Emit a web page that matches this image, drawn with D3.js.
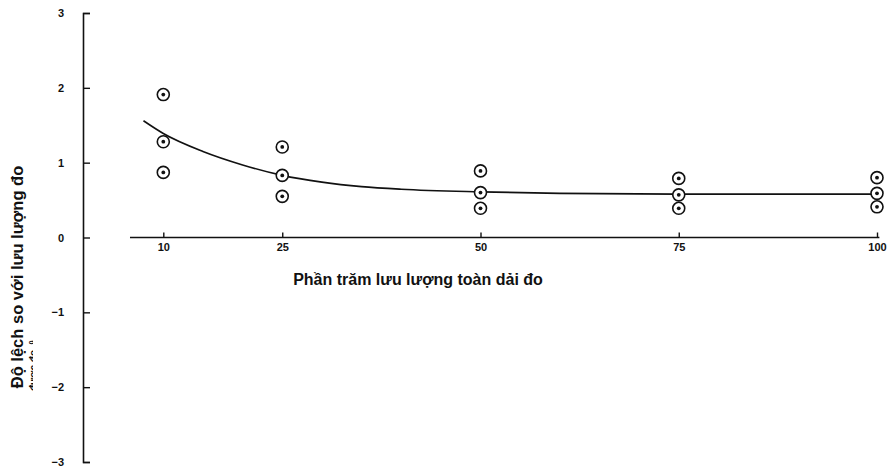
<!DOCTYPE html>
<html>
<head>
<meta charset="utf-8">
<script src="https://cdn.jsdelivr.net/npm/d3@7"></script>
<style>
  html, body { margin: 0; padding: 0; background: #fff; }
  svg { display: block; }
  text { font-family: "Liberation Sans", Arial, sans-serif; fill: #111; }
</style>
</head>
<body>
<svg id="chart" width="891" height="469"></svg>
<script>
// Flow percentage of full range (x) and measured deviations (y, %)
const flowPercents = [10, 25, 50, 75, 100];
const devHigh = [1.91, 1.21, 0.89, 0.79, 0.80];
const devMid  = [1.28, 0.83, 0.60, 0.57, 0.59];
const devLow  = [0.87, 0.55, 0.39, 0.39, 0.41];

// Fitted trend curve
const trendX = [7.5, 10, 15, 20, 25, 30, 35, 40, 50, 60, 75, 100];
const trendY = [1.56, 1.39, 1.15, 0.97, 0.83, 0.74, 0.68, 0.645, 0.61, 0.59, 0.58, 0.58];

const xTicks = [10, 25, 50, 75, 100];
const yTicks = [3, 2, 1, 0, -1, -2, -3];

const xTitle = "Phần trăm lưu lượng toàn dải đo";
const yTitle = "Độ lệch so với lưu lượng đo";
const yTitle2 = "được đo, %";

const svg = d3.select("#chart");
const x = d3.scaleLinear().domain([0, 100]).range([84, 877]);
const y = d3.scaleLinear().domain([-3, 3]).range([462, 13]);

// Y axis with inward ticks
const yAxis = svg.append("g")
  .attr("transform", `translate(${x(0) - 1},0)`)
  .call(d3.axisLeft(y).tickValues(yTicks).tickSizeInner(-7).tickSizeOuter(-7).tickPadding(19)
    .tickFormat(d => d < 0 ? "\u2212" + Math.abs(d) : d));
yAxis.select(".domain").attr("stroke", "#111").attr("stroke-width", 1.6);
yAxis.selectAll(".tick line").attr("stroke", "#111").attr("stroke-width", 1.4);
yAxis.selectAll(".tick text").attr("font-size", 11).attr("font-weight", "bold").attr("fill", "#111")
  .attr("font-family", "Liberation Sans, Arial, sans-serif");

// X axis drawn at y = 0, ticks pointing upward
const xAxis = svg.append("g")
  .attr("transform", `translate(0,${y(0)})`)
  .call(d3.axisBottom(x).tickValues(xTicks).tickSizeInner(-5).tickSizeOuter(0).tickPadding(6));
xAxis.select(".domain").remove();
xAxis.selectAll(".tick line").attr("stroke", "#111").attr("stroke-width", 1.4);
xAxis.selectAll(".tick text").attr("font-size", 11).attr("font-weight", "bold").attr("fill", "#111")
  .attr("font-family", "Liberation Sans, Arial, sans-serif");
svg.append("line")
  .attr("x1", x(5.8)).attr("x2", x(100.3))
  .attr("y1", y(0)).attr("y2", y(0))
  .attr("stroke", "#111").attr("stroke-width", 1.6);

// Trend curve
const line = d3.line().x(d => x(d[0])).y(d => y(d[1])).curve(d3.curveMonotoneX);
svg.append("path")
  .datum(d3.zip(trendX, trendY))
  .attr("d", line)
  .attr("fill", "none")
  .attr("stroke", "#111")
  .attr("stroke-width", 1.6);

// Measured points: ring with a centre dot
const points = [];
flowPercents.forEach((f, i) => {
  [devHigh[i], devMid[i], devLow[i]].forEach(v => points.push([f, v]));
});
const marks = svg.append("g").selectAll("g").data(points).join("g")
  .attr("transform", d => `translate(${x(d[0])},${y(d[1])})`);
marks.append("circle").attr("r", 6).attr("fill", "#fff").attr("stroke", "#111").attr("stroke-width", 1.6);
marks.append("circle").attr("r", 1.9).attr("fill", "#111");

// Axis titles
svg.append("text")
  .attr("x", 418).attr("y", 285)
  .attr("text-anchor", "middle")
  .attr("font-size", 16)
  .attr("font-weight", "bold")
  .text(xTitle);

svg.append("text")
  .attr("transform", `translate(23,${277}) rotate(-90)`)
  .attr("text-anchor", "middle")
  .attr("font-size", 16.5)
  .attr("font-weight", "bold")
  .text(yTitle);

// Second title line, only its upper half is printed
const clip = svg.append("clipPath").attr("id", "cut2");
clip.append("rect").attr("x", 26).attr("y", 340).attr("width", 7).attr("height", 60);
svg.append("g")
  .attr("clip-path", "url(#cut2)")
  .append("text")
  .attr("transform", `translate(37,391) rotate(-90)`)
  .attr("text-anchor", "start")
  .attr("font-size", 10)
  .attr("font-weight", "bold")
  .text(yTitle2);
</script>
</body>
</html>
